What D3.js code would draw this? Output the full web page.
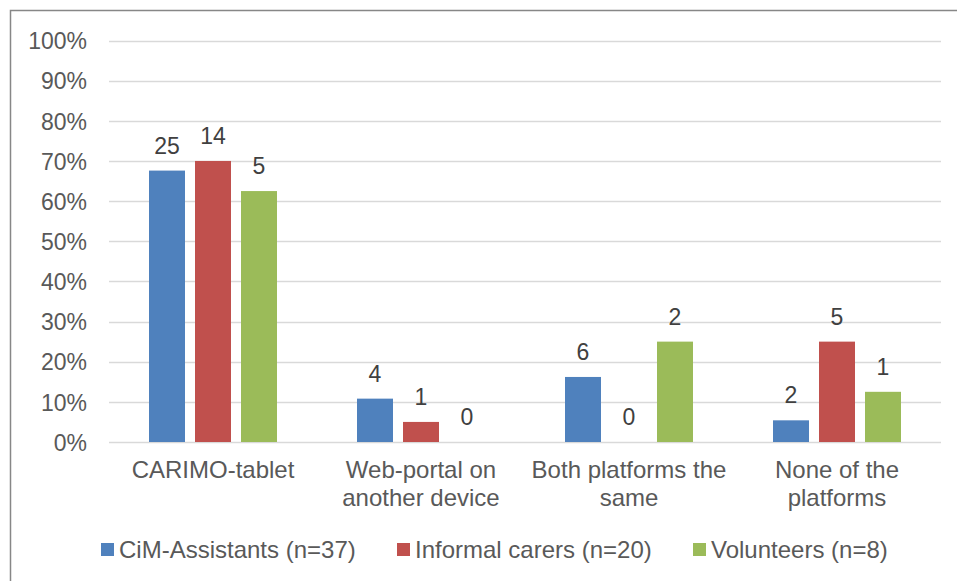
<!DOCTYPE html>
<html><head><meta charset="utf-8">
<script src="https://cdn.jsdelivr.net/npm/d3@7"></script>
<style>
html,body{margin:0;padding:0;background:#fff;}
svg{display:block;font-family:"Liberation Sans",Arial,sans-serif;}
</style></head>
<body><svg id="chart" width="957" height="581"></svg>
<script>
// Data
const categories = ["CARIMO-tablet", "Web-portal on\nanother device", "Both platforms the\nsame", "None of the\nplatforms"];
const seriesNames = ["CiM-Assistants (n=37)", "Informal carers (n=20)", "Volunteers (n=8)"];
const seriesColors = ["#4F81BD", "#C0504D", "#9BBB59"];
// counts shown as labels
const cimCounts = [25, 4, 6, 2];
const carerCounts = [14, 1, 0, 5];
const volunteerCounts = [5, 0, 2, 1];
// shares (fraction of group)
const cimShares = [0.676, 0.108, 0.162, 0.054];
const carerShares = [0.70, 0.05, 0.0, 0.25];
const volunteerShares = [0.625, 0.0, 0.25, 0.125];
const yTicks = [0, 0.1, 0.2, 0.3, 0.4, 0.5, 0.6, 0.7, 0.8, 0.9, 1.0];

const counts = [cimCounts, carerCounts, volunteerCounts];
const shares = [cimShares, carerShares, volunteerShares];

const svg = d3.select("#chart");
const textColor = "#595959";
const fsTick = 23, fsData = 23, fsCat = 24, fsLeg = 24;

// border
svg.append("rect").attr("x", 10.5).attr("y", 10.5).attr("width", 980).attr("height", 620)
  .attr("fill", "none").attr("stroke", "#878787").attr("stroke-width", 1.5);

const plotL = 109, plotR = 941, plotT = 40.5, plotB = 442;
const y = d3.scaleLinear().domain([0, 1]).range([plotB, plotT]);
const x0 = d3.scaleBand().domain(categories).range([plotL, plotR]).padding(0);
const groupW = 138;
const off = (x0.bandwidth() - groupW) / 2;
const x1 = d3.scaleBand().domain(seriesNames).range([off, off + groupW]).paddingInner(10/46).paddingOuter(5/46);

// gridlines
svg.append("g").selectAll("line").data(yTicks).join("line")
  .attr("x1", plotL).attr("x2", plotR)
  .attr("y1", d => Math.round(y(d)) + 0.5).attr("y2", d => Math.round(y(d)) + 0.5)
  .attr("stroke", "#D9D9D9").attr("stroke-width", 1.5);

// y axis labels
const yAxis = d3.axisLeft(y).tickValues(yTicks).tickFormat(d3.format(".0%")).tickSize(0).tickPadding(0);
const ya = svg.append("g").attr("transform", `translate(87,0)`).call(yAxis);
ya.select(".domain").remove();
ya.selectAll("text").attr("fill", textColor).style("font-size", fsTick + "px")
  .style("font-family", "'Liberation Sans', Arial, sans-serif").attr("dy", "0.36em");

// bars
const groups = svg.append("g").selectAll("g").data(categories).join("g")
  .attr("transform", d => `translate(${x0(d)},0)`);
groups.each(function(cat, ci) {
  const g = d3.select(this);
  seriesNames.forEach((s, si) => {
    const v = shares[si][ci];
    if (v > 0) {
      g.append("rect").attr("x", x1(s)).attr("width", x1.bandwidth())
        .attr("y", y(v)).attr("height", y(0) - y(v))
        .attr("fill", seriesColors[si]);
    }
    g.append("text").attr("x", x1(s) + x1.bandwidth() / 2).attr("y", y(v) - 17)
      .attr("text-anchor", "middle").attr("fill", "#404040").style("font-size", fsData + "px")
      .text(counts[si][ci]);
  });
});

// category labels
const xl = svg.append("g");
categories.forEach(cat => {
  const lines = cat.split("\n");
  const t = xl.append("text").attr("text-anchor", "middle").attr("fill", textColor)
    .style("font-size", fsCat + "px");
  lines.forEach((ln, i) => {
    t.append("tspan").attr("x", x0(cat) + x0.bandwidth() / 2).attr("y", 478 + i * 27.5).text(ln);
  });
});

// legend
const legendX = [101, 397, 693];
const lg = svg.append("g");
seriesNames.forEach((s, i) => {
  lg.append("rect").attr("x", legendX[i]).attr("y", 543).attr("width", 13).attr("height", 13).attr("fill", seriesColors[i]);
  lg.append("text").attr("x", legendX[i] + 18).attr("y", 557.5).attr("fill", textColor)
    .style("font-size", fsLeg + "px").text(s);
});
</script></body></html>
